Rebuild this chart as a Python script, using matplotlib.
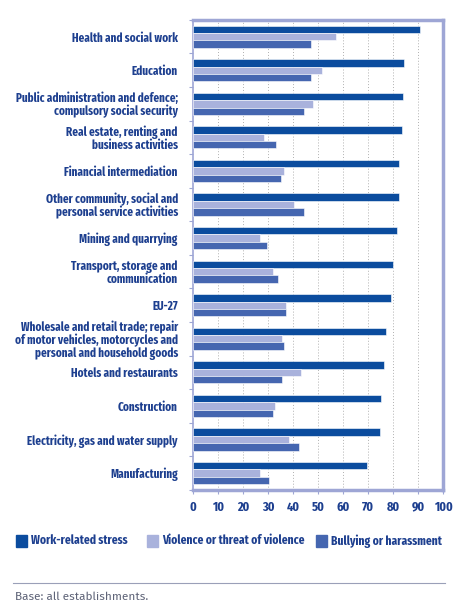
import numpy as np
import matplotlib
matplotlib.use('Agg')
import matplotlib.pyplot as plt

sectors = [
    'Health and social work',
    'Education',
    'Public administration and defence;\ncompulsory social security',
    'Real estate, renting and\nbusiness activities',
    'Financial intermediation',
    'Other community, social and\npersonal service activities',
    'Mining and quarrying',
    'Transport, storage and\ncommunication',
    'EU-27',
    'Wholesale and retail trade; repair\nof motor vehicles, motorcycles and\npersonal and household goods',
    'Hotels and restaurants',
    'Construction',
    'Electricity, gas and water supply',
    'Manufacturing',
]
stress = [90.7, 84.4, 84.0, 83.5, 82.5, 82.3, 81.7, 79.9, 79.1, 77.3, 76.3, 75.3, 74.8, 69.6]
violence = [57.2, 51.5, 48.1, 28.5, 36.4, 40.3, 26.7, 32.1, 37.3, 35.5, 43.2, 32.9, 38.5, 26.7]
bullying = [47.2, 47.2, 44.5, 33.1, 35.1, 44.5, 29.7, 33.9, 37.1, 36.4, 35.5, 32.1, 42.3, 30.3]
series_names = ['Work-related stress', 'Violence or threat of violence', 'Bullying or harassment']
x_ticks = list(range(0, 101, 10))

dark = '#0b4c9e'
light = '#a9b2dc'
mid = '#4566b0'
frame = '#9ea6d5'
text_col = '#1d3f8f'
lab = dict(family=['Fira Sans Extra Condensed', 'DejaVu Sans'], stretch='condensed', weight='bold')

fig = plt.figure(figsize=(4.72, 6.04), dpi=100)
ax = fig.add_axes([0.409, 0.189, 0.530, 0.778])

n = len(sectors)
y = np.arange(n)
h = 0.22
for vals, off, col in zip([stress, violence, bullying], [-h, 0, h], [dark, light, mid]):
    ax.barh(y + off, vals, height=h, color=col, edgecolor='white', linewidth=0.4, zorder=3)

ax.set_ylim(n - 0.5, -0.5)
ax.set_xlim(0, 100)
ax.set_xticks(x_ticks)
ax.set_xticklabels([str(t) for t in x_ticks], fontsize=9.5, color=text_col, **lab)
ax.set_yticks(y)
ax.set_yticklabels(sectors, fontsize=8.7, color=text_col, linespacing=1.0, **lab)
ax.set_yticks(np.arange(n + 1) - 0.5, minor=True)
ax.tick_params(axis='y', which='major', length=0, pad=11)
ax.tick_params(axis='y', which='minor', length=3, color=frame, width=0.8)
ax.tick_params(axis='x', length=3, color=frame, width=0.8, pad=5)

for xv in x_ticks[1:-1]:
    ax.axvline(xv, color='#b0b0b0', linestyle=(0, (1, 2)), linewidth=0.7, zorder=1)

for side in ['top', 'right', 'bottom']:
    ax.spines[side].set_color(frame)
    ax.spines[side].set_linewidth(2.5)
ax.spines['left'].set_color(frame)
ax.spines['left'].set_linewidth(1.2)

# legend
leg_x = [0.034, 0.311, 0.669]
for lx, col, name in zip(leg_x, [dark, light, mid], series_names):
    fig.patches.append(plt.Rectangle((lx, 0.095), 0.024, 0.019, color=col,
                                     transform=fig.transFigure, figure=fig))
    fig.text(lx + 0.032, 0.1045, name, fontsize=9, color=text_col, va='center', **lab)

fig.add_artist(plt.Line2D([0.028, 0.943], [0.035, 0.035], color='#9aa0b8',
                          linewidth=0.8, transform=fig.transFigure))
fig.text(0.032, 0.012, 'Base: all establishments.', fontsize=8.5,
         color='#5f6478', family=['Fira Sans', 'Open Sans'], va='center')

fig.savefig('out.png', dpi=100)
